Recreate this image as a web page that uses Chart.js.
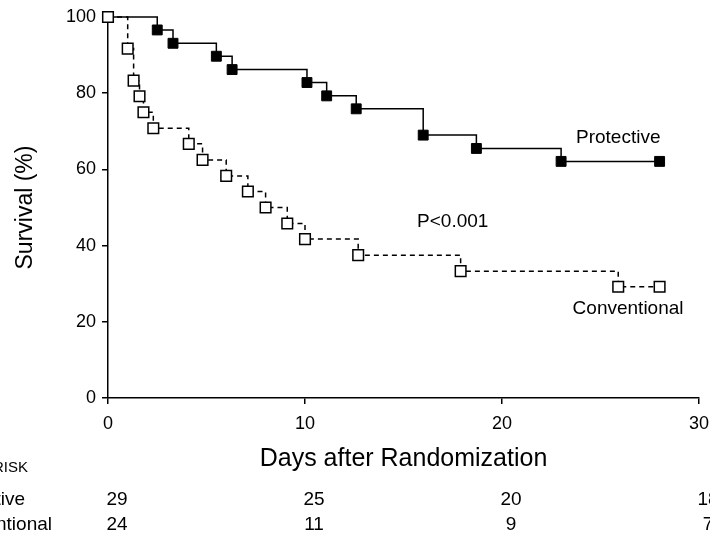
<!DOCTYPE html>
<html>
<head>
<meta charset="utf-8">
<script src="https://cdn.jsdelivr.net/npm/chart.js@4.4.1/dist/chart.umd.min.js"></script>
<style>
  body { margin: 0; background: #fff; }
  #wrap { width: 710px; height: 537px; }
</style>
</head>
<body>
<div id="wrap"><canvas id="kmChart" width="710" height="537"></canvas></div>
<script>
// Kaplan-Meier curves
var protectiveDays = [0, 2.5, 3.3, 5.5, 6.3, 10.1, 11.1, 12.6, 16.0, 18.7, 23.0, 28.0];
var protectiveSurvival = [100, 96.6, 93.1, 89.7, 86.2, 82.8, 79.3, 75.9, 69.0, 65.5, 62.1, 62.1];

var conventionalDays = [0, 1.0, 1.3, 1.6, 1.8, 2.3, 4.1, 4.8, 6.0, 7.1, 8.0, 9.1, 10.0, 12.7, 17.9, 25.9, 28.0];
var conventionalSurvival = [100, 91.7, 83.3, 79.2, 75.0, 70.8, 66.7, 62.5, 58.3, 54.2, 50.0, 45.8, 41.7, 37.5, 33.3, 29.2, 29.2];

// number at risk table under the x axis
var atRiskDays = [0, 10, 20, 30];
var protectiveAtRisk = ['29', '25', '20', '18'];
var conventionalAtRisk = ['24', '11', '9', '7'];

var FONT = "'Liberation Sans', Arial, sans-serif";

function toPoints(xs, ys) {
  return xs.map(function(x, i) { return { x: x, y: ys[i] }; });
}

// text labels inside the plot plus the at-risk rows
var textPlugin = {
  id: 'kmText',
  afterDraw: function(chart) {
    var ctx = chart.ctx;
    var xs = chart.scales.x, ys = chart.scales.y;
    ctx.save();
    ctx.fillStyle = '#000';
    ctx.textBaseline = 'middle';
    ctx.textAlign = 'center';
    ctx.font = '19px ' + FONT;
    ctx.fillText('Protective', xs.getPixelForValue(25.9), ys.getPixelForValue(68.2));
    ctx.fillText('Conventional', xs.getPixelForValue(26.4), ys.getPixelForValue(23.4));
    ctx.fillText('P<0.001', xs.getPixelForValue(17.5), ys.getPixelForValue(46.2));

    // at risk rows (left labels run off the canvas edge as in the source)
    ctx.textAlign = 'right';
    ctx.font = '15px ' + FONT;
    ctx.fillText('NO. AT RISK', 28, 468);
    ctx.font = '19px ' + FONT;
    ctx.fillText('Protective', 25, 500);
    ctx.fillText('Conventional', 52, 525);
    ctx.textAlign = 'center';
    atRiskDays.forEach(function(d, i) {
      var px = xs.getPixelForValue(d) + 9;
      ctx.fillText(protectiveAtRisk[i], px, 500);
      ctx.fillText(conventionalAtRisk[i], px, 525);
    });
    ctx.restore();
  }
};

var ctx = document.getElementById('kmChart').getContext('2d');

var kmChart = new Chart(ctx, {
  type: 'line',
  data: {
    datasets: [{
      label: 'Conventional',
      data: toPoints(conventionalDays, conventionalSurvival),
      stepped: 'before',
      clip: false,
      borderColor: '#000',
      borderWidth: 1.5,
      borderDash: [5, 4],
      pointStyle: 'rect',
      pointRadius: 7.5,
      pointBorderWidth: 1.5,
      pointBorderColor: '#000',
      pointBackgroundColor: '#fff',
      fill: false
    }, {
      label: 'Protective',
      data: toPoints(protectiveDays, protectiveSurvival),
      stepped: 'before',
      clip: false,
      borderColor: '#000',
      borderWidth: 1.5,
      pointStyle: 'rect',
      pointRadius: protectiveDays.map(function(d, i) { return i === 0 ? 0 : 7; }),
      pointBorderWidth: 1,
      pointBorderColor: '#000',
      pointBackgroundColor: '#000',
      fill: false
    }]
  },
  options: {
    responsive: false,
    animation: false,
    layout: { padding: { top: 17, right: 11, left: 0, bottom: 0 } },
    plugins: {
      legend: { display: false },
      tooltip: { enabled: false }
    },
    scales: {
      x: {
        type: 'linear',
        min: 0,
        max: 30,
        ticks: { stepSize: 10, color: '#000', padding: 9, font: { family: FONT, size: 18 } },
        grid: { drawOnChartArea: false, drawTicks: true, tickLength: 6, color: '#000', lineWidth: 1.5 },
        border: { display: true, color: '#000', width: 1.5 },
        title: {
          display: true,
          text: 'Days after Randomization',
          color: '#000',
          font: { family: FONT, size: 25 },
          padding: { top: 0, bottom: 63 }
        },
        afterFit: function(scale) {
          scale.height = 139;
          scale.paddingLeft = 0;
          scale.paddingRight = 0;
        }
      },
      y: {
        min: 0,
        max: 100,
        ticks: { stepSize: 20, color: '#000', padding: 6, font: { family: FONT, size: 18 } },
        grid: { drawOnChartArea: false, drawTicks: true, tickLength: 6, color: '#000', lineWidth: 1.5 },
        border: { display: true, color: '#000', width: 1.5 },
        title: {
          display: true,
          text: 'Survival (%)',
          color: '#000',
          font: { family: FONT, size: 23 },
          padding: { top: 12, bottom: 0 }
        },
        afterFit: function(scale) {
          scale.width = 108;
          scale.paddingTop = 0;
          scale.paddingBottom = 0;
        }
      }
    }
  },
  plugins: [textPlugin]
});
</script>
</body>
</html>
